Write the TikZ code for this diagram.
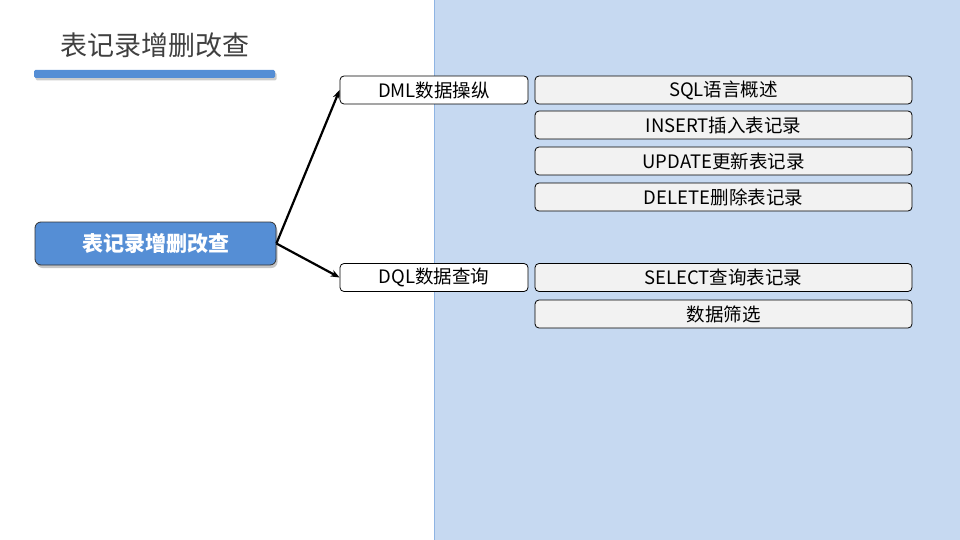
\documentclass[tikz,border=0pt]{standalone}
\usepackage{fontspec}
\setmainfont{Noto Sans CJK SC}
\usetikzlibrary{arrows.meta,shadows}

\definecolor{panelfill}{HTML}{C6D9F1}
\definecolor{paneldraw}{HTML}{8EB4E3}
\definecolor{mainblue}{HTML}{558ED5}
\definecolor{boxgray}{HTML}{F2F2F2}
\definecolor{titlegray}{HTML}{404040}

\tikzstyle{every node}=[font=\fontsize{18.5pt}{22pt}\selectfont]
\tikzstyle{topicbox}=[draw=black, line width=0.8pt, fill=white, rounded corners=4pt, minimum width=188pt, minimum height=28pt, inner sep=0pt]
\tikzstyle{itembox}=[draw=black, line width=0.8pt, fill=boxgray, rounded corners=4pt, minimum width=377pt, minimum height=28pt, inner sep=0pt]

\begin{document}
\begin{tikzpicture}[x=1pt, y=-1pt]
	            \useasboundingbox (0,0) rectangle (960,540);

	            % Pozadí vpravo
	            \draw[paneldraw, fill=panelfill] (434.5,-1) rectangle (961,540.5);

	            % Nadpis a pruh
	            \node[titlegray, font=\fontsize{27pt}{32pt}\selectfont] (title) at (155,45) {表记录增删改查};
	            \fill[mainblue, rounded corners=1.5pt, drop shadow={shadow xshift=1.5pt, shadow yshift=-2.5pt, opacity=0.4}] (34,70) rectangle (275,78);

	            % Hlavní uzel
	            \node[draw=black!80, line width=0.8pt, fill=mainblue, text=white, rounded corners=6pt, minimum width=241pt, minimum height=43pt,
	                  font=\fontsize{21pt}{25pt}\selectfont\bfseries, drop shadow={shadow xshift=1.5pt, shadow yshift=-3pt, opacity=0.45}]
	                  (main) at (155.5,243.5) {表记录增删改查};

	            % DML větev
	            \node[topicbox] (dml) at (434,90) {DML数据操纵};
	            \node[itembox] (sql) at (723.5,90) {SQL语言概述};
	            \node[itembox] (insert) at (723.5,125) {INSERT插入表记录};
	            \node[itembox] (update) at (723.5,161) {UPDATE更新表记录};
	            \node[itembox] (delete) at (723.5,197) {DELETE删除表记录};

	            % DQL větev
	            \node[topicbox] (dql) at (434,277.5) {DQL数据查询};
	            \node[itembox] (select) at (723.5,277.5) {SELECT查询表记录};
	            \node[itembox] (filter) at (723.5,314) {数据筛选};

	            % Šipky
	            \draw[-{Stealth[length=9pt, width=7pt]}, line width=2.2pt] (main.east) -- (dml.west);
	            \draw[-{Stealth[length=9pt, width=7pt]}, line width=2.2pt] (main.east) -- (dql.west);
	        \end{tikzpicture}
\end{document}
